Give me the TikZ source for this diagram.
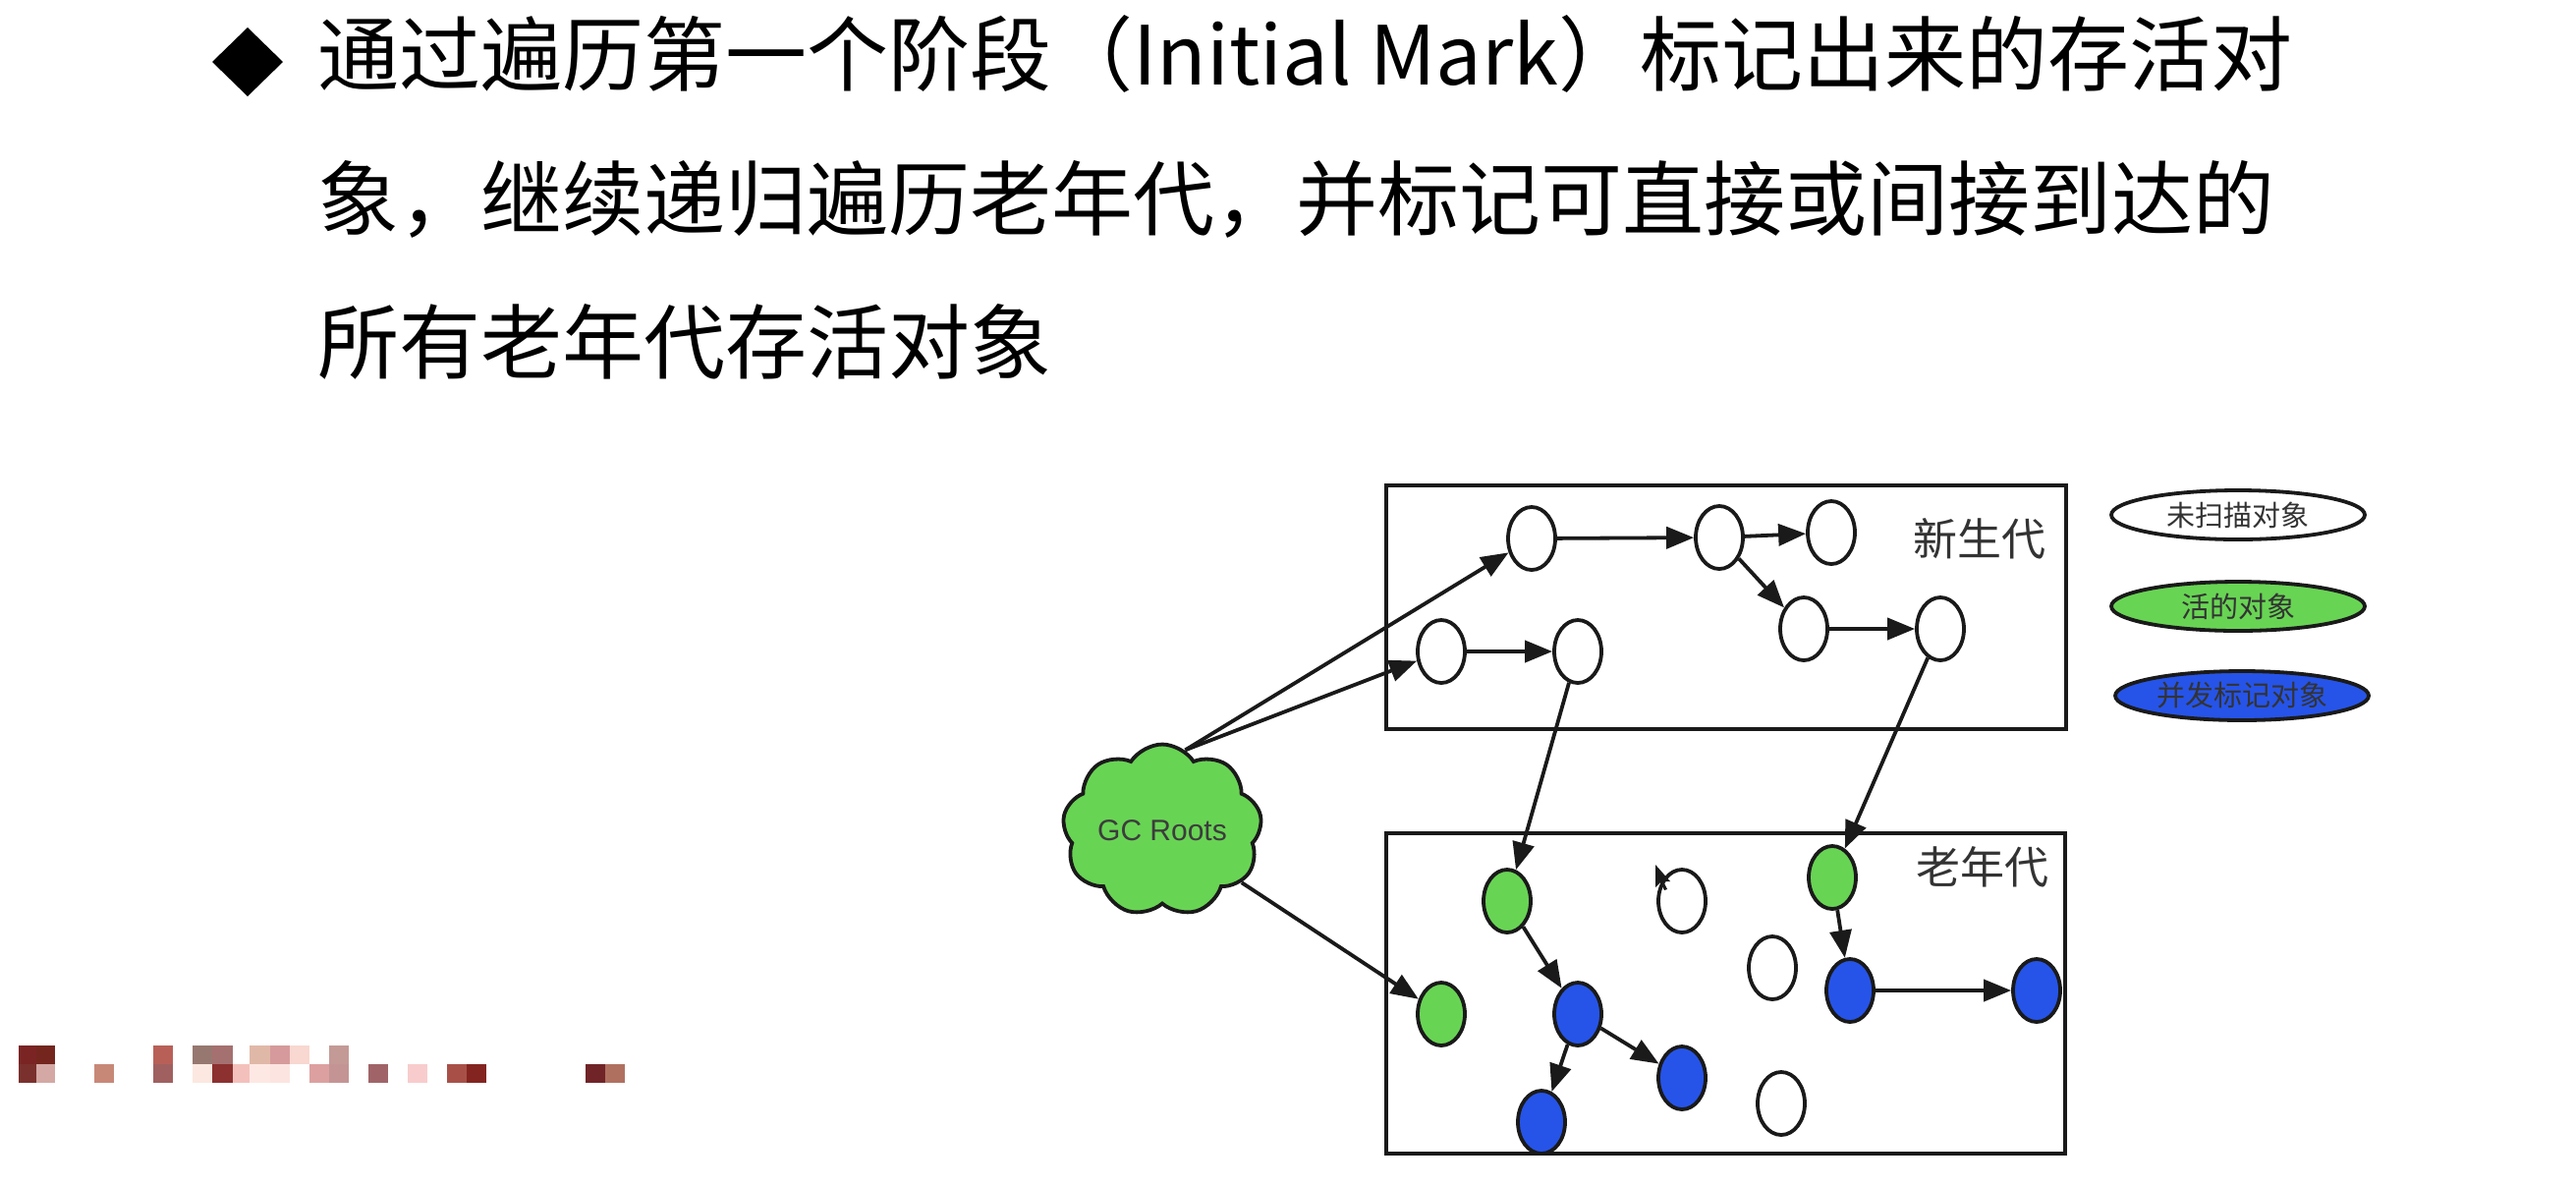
\documentclass[tikz,border=0pt]{standalone}
\usepackage{fontspec}
\newfontfamily\cjk{Noto Sans CJK SC}
\newfontfamily\lat{Liberation Sans}
\usetikzlibrary{shapes.geometric,shapes.symbols,arrows.meta}
\definecolor{gfill}{RGB}{104,212,84}
\definecolor{bfill}{RGB}{38,84,232}
\definecolor{ink}{RGB}{26,26,26}
\definecolor{lbl}{RGB}{51,51,51}
\begin{document}
\begin{tikzpicture}[x=0.5pt,y=-0.5pt,
  obj/.style={ellipse,draw=ink,line width=1.9pt,minimum width=24pt,minimum height=32pt,inner sep=0pt},
  wobj/.style={obj,fill=white},
  gobj/.style={obj,fill=gfill},
  bobj/.style={obj,fill=bfill},
  ref/.style={draw=ink,line width=1.9pt,-{Triangle[length=14pt,width=11pt]}},
  genbox/.style={draw=ink,line width=2.4pt},
  genlabel/.style={font=\cjk\fontsize{22.5pt}{26pt}\selectfont,text=lbl,inner sep=0pt},
  legend/.style={ellipse,draw=ink,line width=1.9pt,minimum width=129pt,minimum height=25pt,inner sep=0pt,font=\cjk\fontsize{14.5pt}{16pt}\selectfont,text=lbl},
  title/.style={anchor=base west,font=\cjk\fontsize{41.5pt}{48pt}\selectfont,inner sep=0pt}
]
\useasboundingbox[fill=white] (0,0) rectangle (2622,1206);

% title
\fill[black] (252,28) -- (288,63) -- (252,98) -- (216,63) -- cycle;
\node[title] (t1) at (323,86) {通过遍历第一个阶段（Initial Mark）标记出来的存活对};
\node[title] (t2) at (323,233) {象，继续递归遍历老年代，并标记可直接或间接到达的};
\node[title] (t3) at (323,379) {所有老年代存活对象};

% generation boxes
\draw[genbox] (1411,494) rectangle (2103,742);
\draw[genbox] (1411,848) rectangle (2102,1174);
\node[genlabel] (ylab) at (2015,548) {新生代};
\node[genlabel] (olab) at (2018,882) {老年代};

% GC roots
\node[cloud,cloud puffs=9,cloud puff arc=115,aspect=1.25,draw=ink,line width=1.9pt,fill=gfill,
      minimum width=90pt,minimum height=70pt,inner sep=0pt,
      font=\lat\fontsize{15pt}{18pt}\selectfont,text=ink!85] (gc) at (1183,845) {GC Roots};

% young objects
\node[wobj] (A) at (1559,548) {};
\node[wobj] (B) at (1750,547) {};
\node[wobj] (C) at (1864,542) {};
\node[wobj] (D) at (1467,663) {};
\node[wobj] (E) at (1606,663) {};
\node[wobj] (F) at (1836,640) {};
\node[wobj] (G) at (1975,640) {};

% old objects
\node[gobj] (g1) at (1534,917) {};
\node[wobj] (w1) at (1712,917) {};
\node[gobj] (g2) at (1865,893) {};
\node[wobj] (w2) at (1804,985) {};
\node[bobj] (b1) at (1883,1008) {};
\node[bobj] (b2) at (2073,1008) {};
\node[gobj] (g3) at (1467,1032) {};
\node[bobj] (b3) at (1606,1032) {};
\node[bobj] (b4) at (1712,1097) {};
\node[bobj] (b5) at (1569,1142) {};
\node[wobj] (w3) at (1813,1123) {};

% legend
\node[legend,fill=white] (l1) at (2278,524) {未扫描对象};
\node[legend,fill=gfill] (l2) at (2278,617) {活的对象};
\node[legend,fill=bfill] (l3) at (2282,708) {并发标记对象};

% references
\draw[ref] (gc.74) -- (A);
\draw[ref] (gc.74) -- (D);
\draw[ref] (gc) -- (g3);
\draw[ref] (A) -- (B);
\draw[ref] (B) -- (C);
\draw[ref] (B) -- (F);
\draw[ref] (D) -- (E);
\draw[ref] (F) -- (G);
\draw[ref] (E) -- (g1);
\draw[ref] (G) -- (g2);
\draw[ref] (g1) -- (b3);
\draw[ref] (b3) -- (b4);
\draw[ref] (b3) -- (b5);
\draw[ref] (g2) -- (b1);
\draw[ref] (b1) -- (b2);

% mouse cursor
\fill[ink] (1685,880) -- (1685,903) -- (1690,898) -- (1694,906) -- (1697,905) -- (1693,897) -- (1700,897) -- cycle;

% pixelated watermark
\foreach \xa/\xb/\r/\c in {19/37/1/7B2424,37/56/1/74261E,156/176/1/B86058,196/216/1/967870,216/237/1/A57070,
  254/275/1/E0B8A8,275/295/1/D69A9C,295/315/1/F8D8D0,335/355/1/C49A96,
  19/37/2/7A302C,37/56/2/D4A8A4,96/116/2/C88878,156/176/2/A06060,196/216/2/FCE8E0,216/237/2/8C3030,
  237/254/2/F4C0BC,254/275/2/FEE8E4,275/295/2/FCE4E0,315/335/2/DCA0A0,335/355/2/C49494,375/395/2/A06468,
  415/435/2/F8CCCC,455/475/2/A85048,475/495/2/842420,596/616/2/702428,616/636/2/B07060}{
  \definecolor{mos}{HTML}{\c}
  \fill[mos] (\xa,{1045+19*\r}) rectangle (\xb,{1064+19*\r});
}
\end{tikzpicture}
\end{document}
